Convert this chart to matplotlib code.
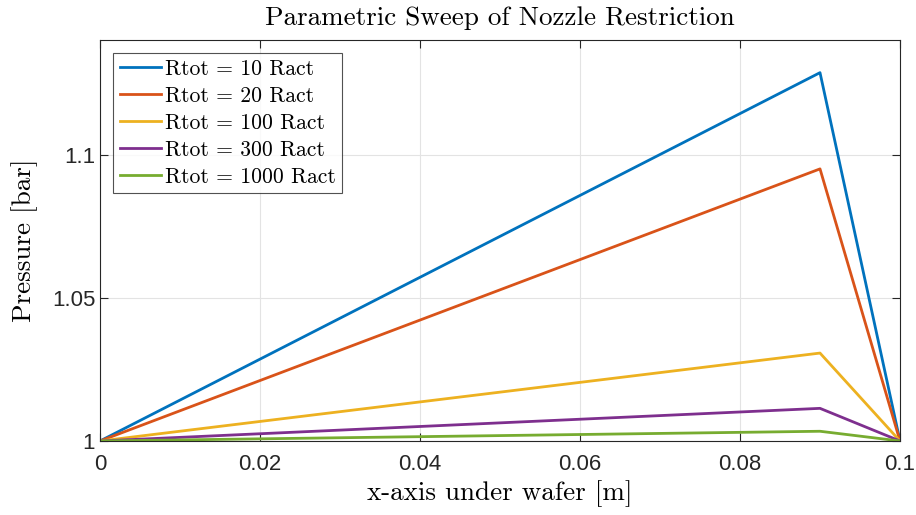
import matplotlib
matplotlib.use("Agg")
import matplotlib.pyplot as plt

x = [0.0, 0.09, 0.1]
labels = ["Rtot = 10 Ract", "Rtot = 20 Ract", "Rtot = 100 Ract", "Rtot = 300 Ract", "Rtot = 1000 Ract"]
series = [
    [1.0, 1.1286, 1.0],
    [1.0, 1.0950, 1.0],
    [1.0, 1.0307, 1.0],
    [1.0, 1.0114, 1.0],
    [1.0, 1.0034, 1.0],
]
colors = ["#0072BD", "#D95319", "#EDB120", "#7E2F8E", "#77AC30"]
xticks = [0, 0.02, 0.04, 0.06, 0.08, 0.1]
xticklabels = ["0", "0.02", "0.04", "0.06", "0.08", "0.1"]
yticks = [1.0, 1.05, 1.1]
yticklabels = ["1", "1.05", "1.1"]

plt.rcParams["font.family"] = ["Liberation Sans", "DejaVu Sans"]
serif = ["cmr10", "DejaVu Serif"]

fig = plt.figure(figsize=(9.16, 5.15), dpi=100)
ax = fig.add_axes([100/916, 74/515, 800/916, 401/515])

for y, lab, c in zip(series, labels, colors):
    ax.plot(x, y, color=c, lw=2.0, label=lab)

ax.set_xlim(0, 0.1)
ax.set_ylim(1.0, 1.14)
ax.set_xticks(xticks)
ax.set_xticklabels(xticklabels)
ax.set_yticks(yticks)
ax.set_yticklabels(yticklabels)
ax.grid(True, color="#e3e3e3", lw=0.8)
ax.set_axisbelow(True)
ax.tick_params(direction="in", length=6, width=0.8, colors="#262626", labelsize=16, top=True, right=True, labeltop=False, labelright=False)
ax.tick_params(axis="x", pad=9)
for s in ax.spines.values():
    s.set_color("#262626")
    s.set_linewidth(0.8)

ax.set_title("Parametric Sweep of Nozzle Restriction", fontsize=19.5, family=serif, color="black", pad=11)
ax.set_xlabel("x-axis under wafer [m]", fontsize=19.5, family=serif, labelpad=4)
ax.set_ylabel("Pressure [bar]", fontsize=19.5, family=serif, labelpad=10)

leg = ax.legend(loc="upper left", prop={"family": serif, "size": 15.6}, frameon=True, fancybox=False,
                edgecolor="#262626", borderpad=0.3, labelspacing=0.34, handlelength=1.9,
                handletextpad=0.2, borderaxespad=0.6)
leg.get_frame().set_linewidth(0.8)

fig.savefig("out.png", dpi=100)
